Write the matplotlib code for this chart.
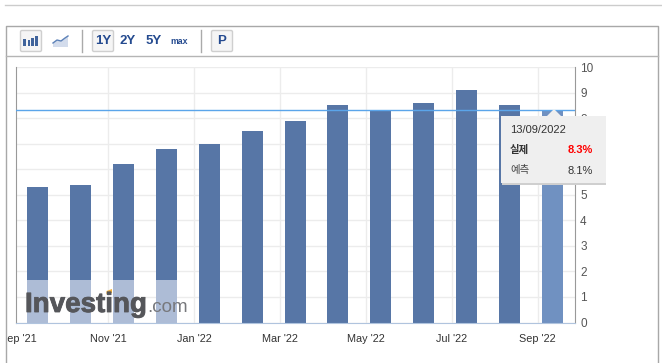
import matplotlib
matplotlib.use("Agg")
import matplotlib.pyplot as plt
from matplotlib.patches import Rectangle, Polygon, FancyBboxPatch
from matplotlib.transforms import Bbox, ScaledTranslation
import matplotlib.patheffects as pe

W, H = 662, 363

values = [5.3, 5.4, 6.2, 6.8, 7.0, 7.5, 7.9, 8.5, 8.3, 8.6, 9.1, 8.5, 8.3]
tick_pos = [-0.35, 1.65, 3.65, 5.65, 7.65, 9.65, 11.65]
tick_labels = ["Sep '21", "Nov '21", "Jan '22", "Mar '22", "May '22", "Jul '22", "Sep '22"]
y_ticks = list(range(0, 11))
# 6 and 7 sit behind the tooltip in the original
y_labels = ['0', '1', '2', '3', '4', '5', '', '', '8', '9', '10']
current = 8.3
washed_bars = [0, 1, 2, 3]
washed_height = 1.65

plt.rcParams['font.family'] = ['Liberation Sans', 'Noto Sans CJK KR', 'DejaVu Sans']

fig = plt.figure(figsize=(W / 100, H / 100), dpi=100)

# main plot, placed in pixels
L, R, T, B = 16, 574.5, 67, 322.5
ax = fig.add_axes([L / W, 1 - B / H, (R - L) / W, (B - T) / H])
ax.set_xlim(-0.501, 12.51)
ax.set_ylim(0, 10)
ax.set_axisbelow(True)
ax.grid(True, color='#ececec', linewidth=1)

colors = ['#5776a6'] * 12 + ['#7091c1']
ax.bar(range(len(values)), values, width=0.49, color=colors, zorder=2)
ax.bar(washed_bars, [washed_height] * len(washed_bars), width=0.49, color='#adbcd6', zorder=3)
ax.axhline(current, color='#5ba5ea', linewidth=1, zorder=4)

ax.yaxis.tick_right()
ax.set_yticks(y_ticks)
ax.set_yticklabels(y_labels)
ax.set_xticks(tick_pos)
ax.set_xticklabels(tick_labels)
ax.tick_params(axis='y', length=0, pad=4, labelsize=8.5, labelcolor='#555555')
ax.tick_params(axis='x', length=0, pad=8.5, labelsize=7.8, labelcolor='#333333')
ax.spines['top'].set_visible(False)
ax.spines['left'].set_color('#999999')
ax.spines['right'].set_color('#999999')
ax.spines['bottom'].set_color('#b0c4de')

# no gridline under the first label
ax.xaxis.get_major_ticks()[0].gridline.set_visible(False)

# first label is shifted left and cut by the frame
first = ax.get_xticklabels()[0]
first.set_transform(first.get_transform() + ScaledTranslation(-4.5 / 100, 0, fig.dpi_scale_trans))
first.set_clip_box(Bbox([[7, 0], [W, H]]))
first.set_clip_on(True)

# overlay in pixel coords for the page chrome, logo and tooltip
ov = fig.add_axes([0, 0, 1, 1], facecolor='none')
ov.set_xlim(0, W)
ov.set_ylim(H, 0)
ov.axis('off')

ov.plot([5, W], [4.5, 4.5], color='#cccccc', lw=1)
ov.plot([5.5, 5.5, 657.5, 657.5], [H, 25.5, 25.5, H], color='#a8a8a8', lw=1)
ov.plot([5.5, 657.5], [56, 56], color='#b5b5b5', lw=1)
for x in [81.5, 200.5]:
    ov.plot([x, x], [30, 52], color='#aaaaaa', lw=1)

for x0, x1 in [(20.5, 41.5), (92.5, 113.5), (211.5, 232.5)]:
    ov.add_patch(FancyBboxPatch((x0, 30.5), x1 - x0, 21, boxstyle='round,pad=0,rounding_size=1.5',
                                fc='#f5f5f5', ec='#cfcfcf', lw=1))

# bar icon
for x, top in [(23, 39), (27.7, 40), (31, 37.7), (35, 35.7)]:
    ov.add_patch(Rectangle((x, top), 2.6, 46 - top, fc='#3f639b', ec='none'))
# line icon
ov.add_patch(Polygon([(53, 43), (57, 40), (61, 41), (65, 38), (68, 36), (68, 47), (53, 47)],
                     fc='#d3dcec', ec='none'))
ov.plot([53, 57, 61, 65, 68], [43, 40, 41, 38, 36], color='#5d82b8', lw=1)

for txt, x, fs in [('1Y', 103, 9.5), ('2Y', 128, 9.5), ('5Y', 153.5, 9.5), ('max', 179, 6.3), ('P', 222, 9.5)]:
    ov.text(x, 41, txt, color='#244a8f', fontsize=fs, fontweight='bold', ha='center', va='center')

# logo
ov.text(25, 312, 'Investing', color='#55565a', fontsize=20, fontweight='bold', ha='left', va='baseline',
        path_effects=[pe.withStroke(linewidth=0.6, foreground='#55565a')])
ov.text(147, 312, '.com', color='#77787c', fontsize=13.5, ha='left', va='baseline')
ov.add_patch(Polygon([(106.5, 291), (112, 289), (112, 293), (106.5, 294)], fc='#f2b13c', ec='none'))

# tooltip
ov.add_patch(Rectangle((502, 117), 104, 67.5, fc='#cfcfcf', ec='none', zorder=5))
ov.add_patch(Rectangle((501, 115.5), 104.5, 67.5, fc='#efefef', ec='none', zorder=6))
ov.add_patch(Polygon([(547, 116), (554, 109), (561, 116)], fc='#efefef', ec='none', zorder=6))
ov.text(510, 130, '13/09/2022', color='#333333', fontsize=8, va='center', zorder=7)
ov.text(510, 149.5, '실제', color='#333333', fontsize=7.5, fontweight='bold', va='center', zorder=7)
ov.text(592.7, 150, '8.3%', color='#ff0000', fontsize=8, fontweight='bold', ha='right', va='center', zorder=7)
ov.text(510, 170, '예측', color='#444444', fontsize=7.5, va='center', zorder=7)
ov.text(592.7, 170.5, '8.1%', color='#333333', fontsize=8, ha='right', va='center', zorder=7)

fig.savefig('out.png', dpi=100)
